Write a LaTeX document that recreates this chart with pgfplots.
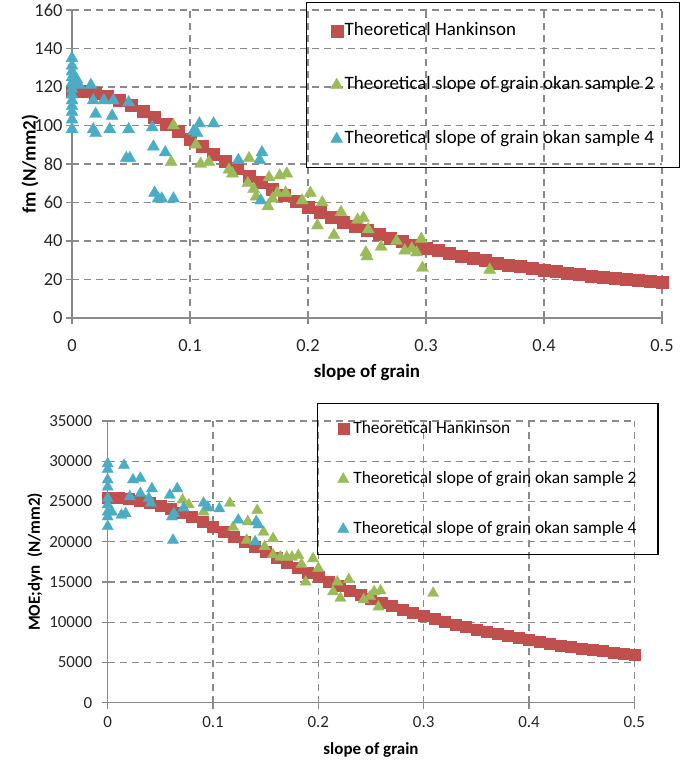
\documentclass[border=0pt]{standalone}
\usepackage{pgfplots}
\pgfplotsset{compat=1.18}
\usepackage{fontspec}
\setmainfont{Carlito}
\definecolor{hred}{HTML}{C0504D}
\definecolor{hgreen}{HTML}{9BBB59}
\definecolor{hblue}{HTML}{4BACC6}
\definecolor{gridgray}{HTML}{8A8A8A}
\definecolor{tickfg}{HTML}{262626}
\pgfplotsset{
  mylegimg/.style={legend image code/.code={\path (-5bp,0bp) (0bp,0bp); \draw[##1] plot coordinates {(0bp,0bp)};}},
  excel/.style={
    scale only axis,
    axis x line*=bottom, axis y line*=left,
    axis line style={gridgray, line width=1.4bp, -},
    grid=major,
    major grid style={gridgray, line width=1.1bp, dash pattern=on 7bp off 5bp},
    tick align=outside,
    major tick length=6bp,
    tick style={gridgray, line width=1.2bp},
    /pgf/number format/assume math mode=true,
    scaled y ticks=false, scaled x ticks=false,
    xmin=0, xmax=0.5, ymin=0,
    xtick={0,0.1,0.2,0.3,0.4,0.5},
    xticklabels={0,0.1,0.2,0.3,0.4,0.5},
    ticklabel style={text=tickfg},
    legend cell align=left,
    clip=false,
  },
  sq/.style={only marks, mark=square*, color=hred, mark options={solid, fill=hred, draw=hred, line width=0.3bp}, mylegimg},
  tg/.style={only marks, mark=triangle*, color=hgreen, mark options={solid, fill=hgreen, draw=hgreen, line width=0.3bp}, mylegimg},
  tb/.style={only marks, mark=triangle*, color=hblue, mark options={solid, fill=hblue, draw=hblue, line width=0.3bp}, mylegimg},
}
\begin{document}
\begin{tikzpicture}
\useasboundingbox (0,0) rectangle (685bp,763bp);
% ---------------- top chart ----------------
\begin{axis}[excel,
  at={(72bp,445bp)}, anchor=south west, width=590bp, height=308bp,
  ymax=160, ytick={0,20,40,60,80,100,120,140,160},
  tick label style={font=\fontsize{18.5}{22}\selectfont},
  xticklabel style={yshift=-12bp},
  xlabel={slope of grain}, ylabel={fm (N/mm2)},
  label style={font=\fontsize{19}{22}\selectfont\bfseries},
  xlabel style={at={(axis description cs:0.5,-0.1753)}, anchor=center},
  ylabel style={at={(axis description cs:-0.0712,0.5)}, anchor=center},
  legend style={at={(0.3966,1.026)}, anchor=north west, draw=black, line width=1.2bp, fill=none,
    inner xsep=24bp, inner ysep=18.5bp, row sep=34bp, column sep=0.5bp,
    nodes={text height=13bp, text depth=4bp, inner sep=1.5bp, font=\fontsize{19}{22}\selectfont}},
]
\addplot[sq, mark size=6bp] table[row sep=\\] {
x y\\
0 118.0\\ 0.01 117.7\\ 0.02 116.7\\ 0.03 115.2\\ 0.04 113.1\\ 0.05 110.5\\
0.06 107.5\\ 0.07 104.2\\ 0.08 100.7\\ 0.09 96.9\\ 0.10 93.0\\ 0.11 89.1\\
0.12 85.2\\ 0.13 81.4\\ 0.14 77.6\\ 0.15 73.9\\ 0.16 70.4\\ 0.17 67.0\\
0.18 63.8\\ 0.19 60.7\\ 0.20 57.8\\ 0.21 55.0\\ 0.22 52.4\\ 0.23 50.0\\
0.24 47.7\\ 0.25 45.5\\ 0.26 43.5\\ 0.27 41.5\\ 0.28 39.7\\ 0.29 38.0\\
0.30 36.5\\ 0.31 35.0\\ 0.32 33.6\\ 0.33 32.2\\ 0.34 31.0\\ 0.35 29.8\\
0.36 28.7\\ 0.37 27.7\\ 0.38 26.7\\ 0.39 25.8\\ 0.40 24.9\\ 0.41 24.1\\
0.42 23.3\\ 0.43 22.6\\ 0.44 21.9\\ 0.45 21.2\\ 0.46 20.6\\ 0.47 20.0\\
0.48 19.4\\ 0.49 18.9\\ 0.50 18.4\\
};
\addlegendentry{Theoretical Hankinson}
\addplot[tg, mark size=7bp] table[row sep=\\] {
x y\\
0.086 100\\ 0.084 81\\ 0.105 90\\ 0.109 80\\ 0.116 81\\ 0.133 77\\ 0.136 75\\
0.150 83\\ 0.149 70\\ 0.154 67\\ 0.156 63\\ 0.166 58\\ 0.167 73\\ 0.170 62\\
0.174 65\\ 0.176 74\\ 0.182 75\\ 0.181 65\\ 0.195 61\\ 0.202 65\\ 0.212 60\\
0.208 48\\ 0.222 43\\ 0.228 55\\ 0.242 51\\ 0.247 52\\ 0.251 46\\ 0.249 34\\
0.250 32\\ 0.262 37\\ 0.275 40\\ 0.282 35\\ 0.288 36\\ 0.292 34\\ 0.296 41\\
0.297 26\\ 0.354 25\\
};
\addlegendentry{Theoretical slope of grain okan sample 2}
\addplot[tb, mark size=7bp] table[row sep=\\] {
x y\\
0 135\\ 0 131\\ 0 128\\ 0 125\\ 0 122\\ 0 119\\ 0 116\\ 0 113\\ 0 110\\
0 107\\ 0 103\\ 0 98\\ 0.004 124\\ 0.006 121\\ 0.016 121\\ 0.018 113\\
0.020 106\\ 0.018 98\\ 0.020 96\\ 0.027 113\\ 0.032 98\\ 0.034 105\\
0.035 113\\ 0.048 98\\ 0.046 83\\ 0.049 83\\ 0.048 112\\ 0.068 99\\
0.069 89\\ 0.079 86\\ 0.070 65\\ 0.073 62\\ 0.076 62\\ 0.086 62\\
0.103 97\\ 0.106 96\\ 0.108 101\\ 0.120 101\\ 0.141 82\\ 0.161 86\\
0.159 82\\ 0.160 61\\
};
\addlegendentry{Theoretical slope of grain okan sample 4}
\end{axis}
% ---------------- bottom chart ----------------
\begin{axis}[excel,
  at={(107.7bp,60.3bp)}, anchor=south west, width=526.6bp, height=281.7bp,
  ymax=35000, ytick={0,5000,10000,15000,20000,25000,30000,35000},
  yticklabels={0,5000,10000,15000,20000,25000,30000,35000},
  tick label style={font=\fontsize{17}{20}\selectfont},
  yticklabel style={xshift=-6bp},
  xticklabel style={yshift=-4bp},
  xlabel={slope of grain}, ylabel={MOE;dyn\ \ (N/mm2)},
  label style={font=\fontsize{17}{20}\selectfont\bfseries},
  xlabel style={at={(axis description cs:0.5,-0.1682)}, anchor=center},
  ylabel style={at={(axis description cs:-0.1381,0.5)}, anchor=center},
  legend style={at={(0.3975,1.0639)}, anchor=north west, draw=black, line width=1.2bp, fill=none,
    inner xsep=20bp, inner ysep=16bp, row sep=31bp, column sep=3bp,
    nodes={text height=12bp, text depth=4bp, inner sep=1.5bp, font=\fontsize{17.4}{20}\selectfont}},
]
\addplot[sq, mark size=5.5bp] table[row sep=\\] {
x y\\
0 25500\\ 0.01 25458\\ 0.02 25333\\ 0.03 25128\\ 0.04 24847\\ 0.05 24494\\
0.06 24078\\ 0.07 23605\\ 0.08 23083\\ 0.09 22520\\ 0.10 21926\\ 0.11 21306\\
0.12 20669\\ 0.13 20021\\ 0.14 19369\\ 0.15 18718\\ 0.16 18072\\ 0.17 17436\\
0.18 16812\\ 0.19 16204\\ 0.20 15613\\ 0.21 15040\\ 0.22 14487\\ 0.23 13955\\
0.24 13444\\ 0.25 12954\\ 0.26 12484\\ 0.27 12035\\ 0.28 11606\\ 0.29 11197\\
0.30 10807\\ 0.31 10435\\ 0.32 10081\\ 0.33 9744\\ 0.34 9423\\ 0.35 9117\\
0.36 8826\\ 0.37 8549\\ 0.38 8286\\ 0.39 8035\\ 0.40 7795\\ 0.41 7568\\
0.42 7351\\ 0.43 7144\\ 0.44 6947\\ 0.45 6759\\ 0.46 6580\\ 0.47 6408\\
0.48 6245\\ 0.49 6089\\ 0.50 5940\\
};
\addlegendentry{Theoretical Hankinson}
\addplot[tg, mark size=6.5bp] table[row sep=\\] {
x y\\
0.071 25200\\ 0.077 24600\\ 0.091 23700\\ 0.094 24200\\ 0.116 24800\\
0.119 21800\\ 0.133 22500\\ 0.132 20200\\ 0.142 23900\\ 0.148 21200\\
0.149 19400\\ 0.157 20400\\ 0.157 18400\\ 0.164 18100\\ 0.170 18100\\
0.175 18100\\ 0.181 18300\\ 0.184 17200\\ 0.188 15000\\ 0.195 17900\\
0.200 16700\\ 0.218 15000\\ 0.229 15300\\ 0.214 13800\\ 0.221 13000\\
0.243 12800\\ 0.249 13200\\ 0.253 13800\\ 0.259 13900\\ 0.257 11900\\
0.309 13600\\
};
\addlegendentry{Theoretical slope of grain okan sample 2}
\addplot[tb, mark size=6.5bp] table[row sep=\\] {
x y\\
0 29700\\ 0 29000\\ 0 27700\\ 0 26800\\ 0 25400\\ 0 24600\\ 0 23700\\
0 23100\\ 0 21900\\ 0.004 23700\\ 0.0155 29500\\ 0.013 23300\\ 0.017 23500\\
0.021 25600\\ 0.024 27700\\ 0.031 27900\\ 0.031 26000\\ 0.039 25400\\
0.042 26600\\ 0.041 24800\\ 0.059 25800\\ 0.061 23100\\ 0.063 23500\\
0.066 26600\\ 0.062 20200\\ 0.072 24200\\ 0.091 24800\\ 0.095 24300\\
0.106 24100\\ 0.124 22700\\ 0.141 22500\\ 0.143 22100\\ 0.140 20000\\
};
\addlegendentry{Theoretical slope of grain okan sample 4}
\end{axis}
\end{tikzpicture}
\end{document}
